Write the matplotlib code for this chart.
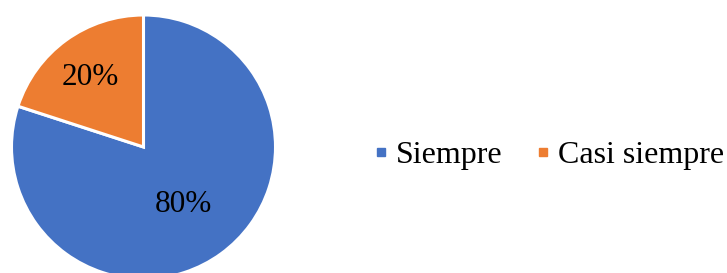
import numpy as np
import matplotlib.pyplot as plt
from matplotlib.lines import Line2D

plt.rcParams['font.family'] = ['Liberation Serif', 'DejaVu Serif']

labels = ['Siempre', 'Casi siempre']
values = [80, 20]
colors = ['#4472C4', '#ED7D31']

fig = plt.figure(figsize=(7.27, 2.73), dpi=100)
ax = fig.add_axes([0, 0, 1, 1])

center = (143.5, 126)
radius = 132
wedges, _ = ax.pie(values, colors=colors, startangle=90, counterclock=False,
                   center=center, radius=radius, frame=True,
                   wedgeprops=dict(edgecolor='white', linewidth=2.2))
ax.set_xlim(0, 727)
ax.set_ylim(0, 273)
ax.set_aspect('equal')
ax.axis('off')

# percent labels, each at its own distance along the wedge bisector
label_dist = [0.51, 0.68]
total = sum(values)
for w, v, d in zip(wedges, values, label_dist):
    ang = np.deg2rad((w.theta1 + w.theta2) / 2)
    x = center[0] + d * radius * np.cos(ang)
    y = center[1] + d * radius * np.sin(ang)
    ax.text(x, y, f'{v / total * 100:.0f}%', ha='center', va='center_baseline',
            fontsize=22.5)

handles = [Line2D([], [], marker='s', linestyle='none', markersize=6,
                  markerfacecolor=c, markeredgecolor=c) for c in colors]
fig.legend(handles, labels, loc='center', bbox_to_anchor=(546 / 727, 1 - 155 / 273),
           ncol=2, frameon=False, fontsize=23, handletextpad=0.08,
           columnspacing=0.85, handlelength=0.8)

fig.savefig('out.png', dpi=100)
